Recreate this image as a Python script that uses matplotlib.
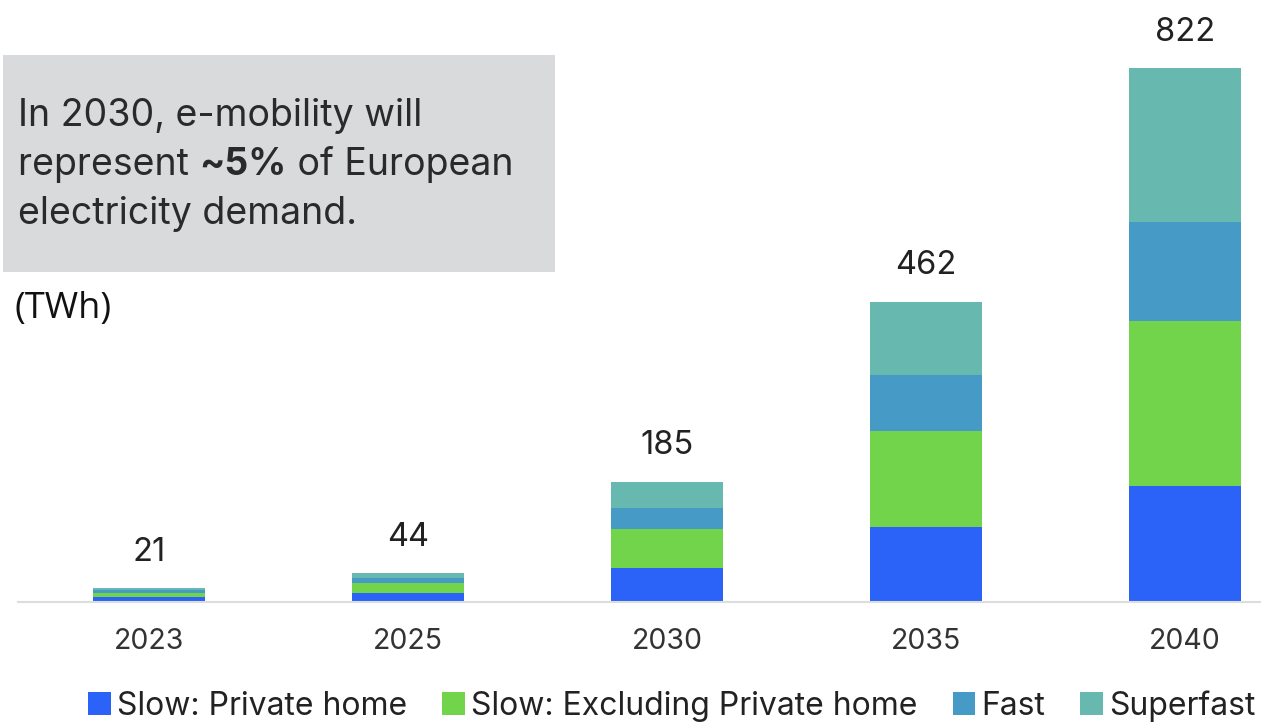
import matplotlib
matplotlib.use("Agg")
import matplotlib.pyplot as plt
from matplotlib.patches import Rectangle, Patch
import numpy as np

years = ["2023", "2025", "2030", "2035", "2040"]
totals = [21, 44, 185, 462, 822]
slow_private = [7, 14, 52, 116, 179]
slow_excl = [7, 16, 60, 148, 253]
fast = [4, 7, 33, 85, 153]
superfast = [3, 7, 40, 113, 237]
series_names = ["Slow: Private home", "Slow: Excluding Private home", "Fast", "Superfast"]
colors = ["#2B62F7", "#72D44A", "#459AC6", "#67B9B0"]

FONT = "Inter"
W, H = 1261, 724
fig = plt.figure(figsize=(W / 100, H / 100), dpi=100)

ax_left = 18 / W
ax_bottom = (H - 602) / H
ax = fig.add_axes([ax_left, ax_bottom, 1 - ax_left, 1 - ax_bottom])

x = np.arange(len(years))
width = 0.436
bottom = np.zeros(len(years))
for vals, c, name in zip([slow_private, slow_excl, fast, superfast], colors, series_names):
    ax.bar(x, vals, width, bottom=bottom, color=c, label=name, zorder=2)
    bottom += np.array(vals)

for xi, t in zip(x, totals):
    ax.annotate(str(t), (xi, t), xytext=(0, 26), textcoords="offset points",
                ha="center", va="center", fontsize=23.5, color="#222222", family=FONT)

c0, step = 149, 259
left_px = 18
ax.set_xlim((left_px - c0) / step, (W - c0) / step)
ax.set_ylim(0, 601 / 0.6484)

for s in ["top", "right", "left"]:
    ax.spines[s].set_visible(False)
ax.spines["bottom"].set_color("#DDDDDD")
ax.spines["bottom"].set_linewidth(1.5)
ax.set_yticks([])
ax.set_xticks(x)
ax.set_xticklabels(years, fontsize=20.5, color="#333333", family=FONT)
ax.tick_params(axis="x", length=0, pad=19)
ax.patch.set_alpha(0)

fig.patches.append(Rectangle((3 / W, (H - 272) / H), 552 / W, 217 / H,
                             transform=fig.transFigure, facecolor="#D9DADC",
                             edgecolor="none", zorder=0))
fs = 27
tc = "#2a2a2a"
fig.text(18 / W, (H - 116) / H, "In 2030, e-mobility will", fontsize=fs,
         family=FONT, color=tc, va="center")
t1 = fig.text(18 / W, (H - 165) / H, "represent ", fontsize=fs, family=FONT,
              color=tc, va="center")
fig.canvas.draw()
r = fig.canvas.get_renderer()
bb = t1.get_window_extent(r)
t2 = fig.text(bb.x1 / W, (H - 165) / H, "~5%", fontsize=fs, family=FONT,
              weight="bold", color=tc, va="center")
bb2 = t2.get_window_extent(r)
fig.text(bb2.x1 / W, (H - 165) / H, " of European", fontsize=fs, family=FONT,
         color=tc, va="center")
fig.text(18 / W, (H - 214) / H, "electricity demand.", fontsize=fs, family=FONT,
         color=tc, va="center")

fig.text(15 / W, (H - 309) / H, "(TWh)", fontsize=26, family="Open Sans",
         color="#111111", va="center")

handles = [Patch(facecolor=c, edgecolor="none") for c in colors]
fig.legend(handles, series_names, loc="center", bbox_to_anchor=(672 / W, (H - 706) / H),
           ncol=4, frameon=False, prop={"family": FONT, "size": 23},
           handlelength=0.7, handleheight=0.7, handletextpad=0.2, columnspacing=1.1,
           labelcolor="#222222")

fig.savefig("out.png", dpi=100)
